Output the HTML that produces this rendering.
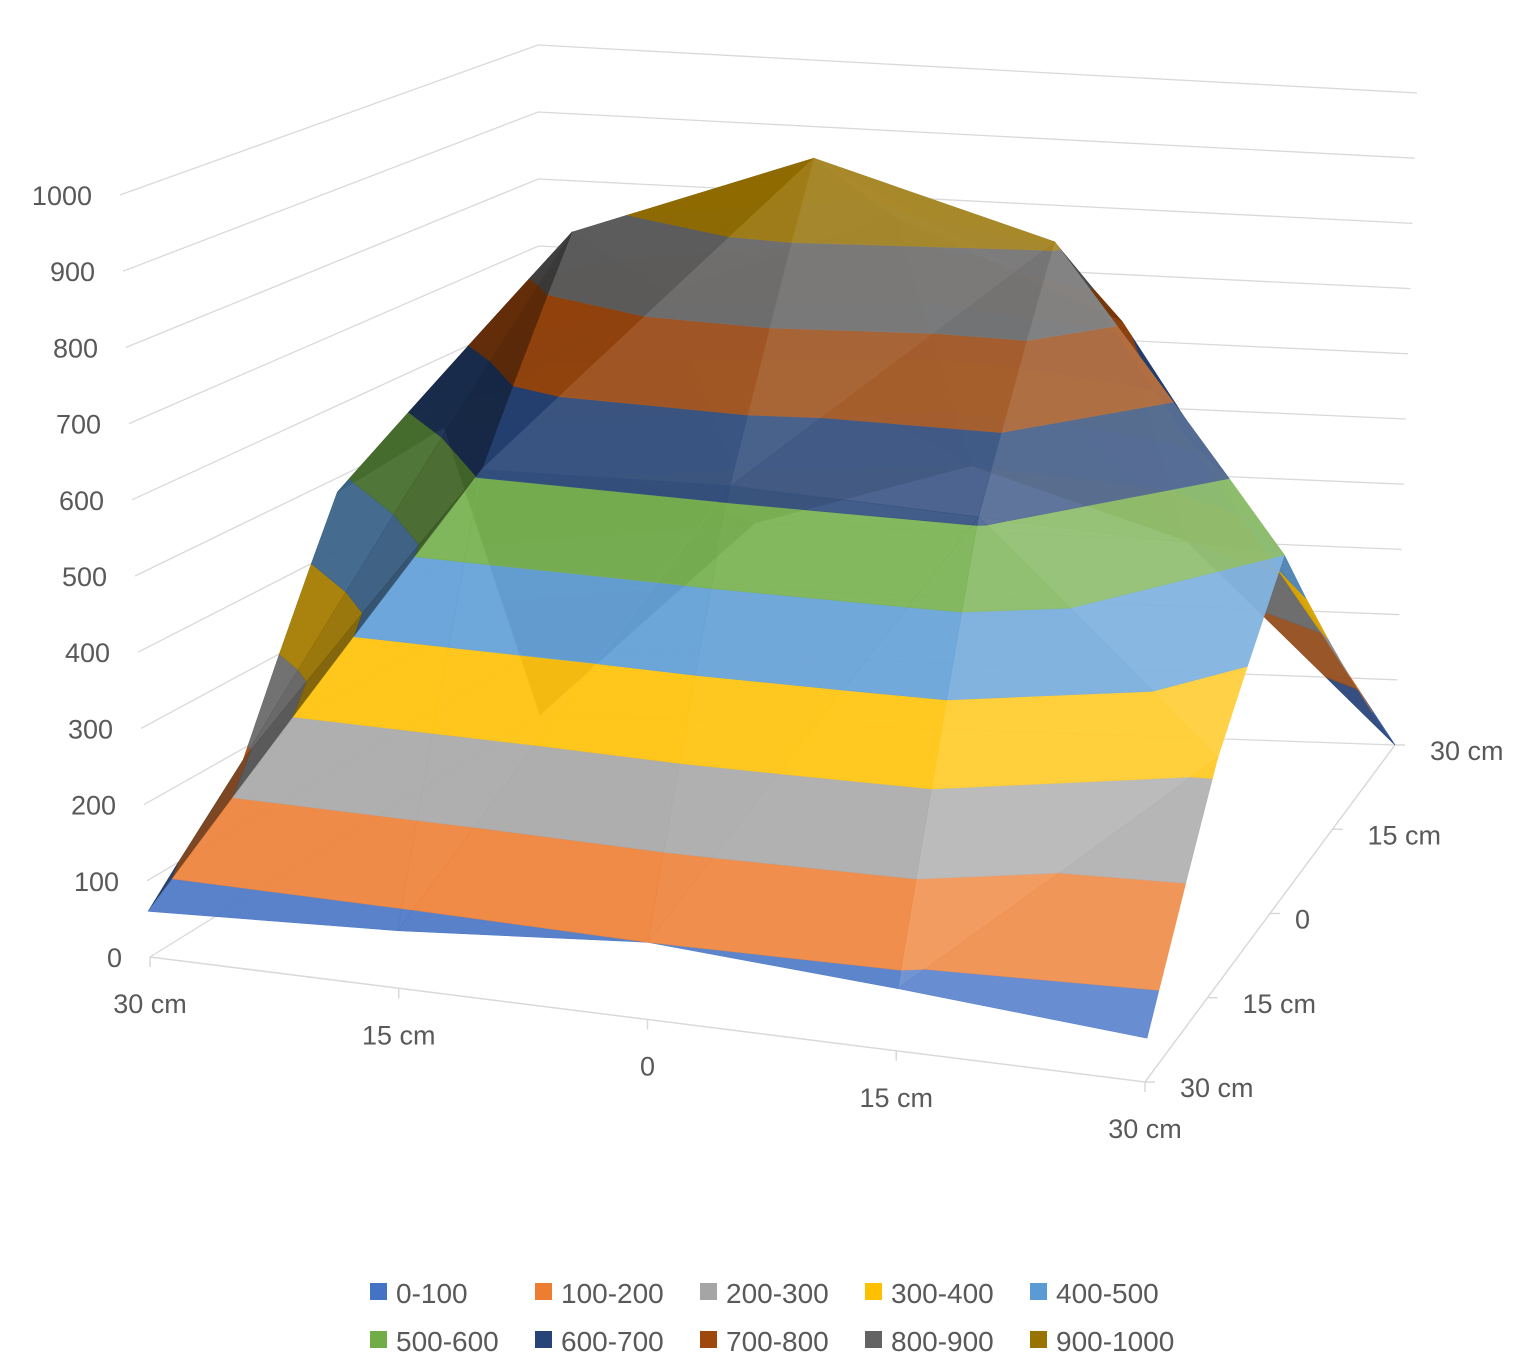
<!DOCTYPE html>
<html><head><meta charset="utf-8"><style>
body{margin:0;background:#fff;}
svg text{font-family:"Liberation Sans",sans-serif;fill:#595959;}
</style></head><body>
<svg id="chart" width="1536" height="1367" viewBox="0 0 1536 1367" xmlns="http://www.w3.org/2000/svg">
<g id="grid"></g>
<g id="axes"></g>
<g id="surf"></g>
<g id="legend"></g>
</svg>
<script>
const xCategories=["30 cm","15 cm","0","15 cm","30 cm"];
const depthCategories=["30 cm","15 cm","0","15 cm","30 cm"];
const zTicks=[0,100,200,300,400,500,600,700,800,900,1000];
const bandLabels=["0-100","100-200","200-300","300-400","400-500","500-600","600-700","700-800","800-900","900-1000"];
const bandColors=["#4472C4","#ED7D31","#A5A5A5","#FFC000","#5B9BD5","#70AD47","#264478","#9E480E","#636363","#997300"];
// rows: depth index 0 (front) .. 4 (back); columns: x index
const row0=[60,75,100,80,56];
const row1=[185,610,620,610,320];
const row2=[480,870,1000,910,500];
const row3=[530,720,850,720,250];
const row4=[0,300,400,300,0];
const values=[row0,row1,row2,row3,row4];

const NS="http://www.w3.org/2000/svg";
const FL=[150,957],FR=[1145,1082],BR=[1395,745],BL=[540,715];
const TFL=[120,195],TFR=[1180,300],TBR=[1417,93],TBL=[538,45];
const ZMAX=1000;
function lerp(a,b,t){return [a[0]+(b[0]-a[0])*t,a[1]+(b[1]-a[1])*t];}
function quad(a,b,c,d,u,v){return lerp(lerp(a,b,u),lerp(d,c,u),v);}
function proj(u,v,h){const b=quad(FL,FR,BR,BL,u,v),t=quad(TFL,TFR,TBR,TBL,u,v);return lerp(b,t,h/ZMAX);}
function el(tag,attrs,parent,name){const e=document.createElementNS(NS,tag);for(const k in attrs)e.setAttribute(k,attrs[k]);parent.appendChild(e);return e;}
const grid=document.getElementById('grid'),axes=document.getElementById('axes'),surf=document.getElementById('surf'),legend=document.getElementById('legend');
// gridlines
zTicks.forEach(z=>{
  const a=proj(0,0,z),b=proj(0,1,z),c=proj(1,1,z);
  const p=el('polyline',{points:`${a} ${b} ${c}`,fill:'none',stroke:'#d9d9d9','stroke-width':1.3},grid);
  
  
  const t=el('text',{x:a[0]-28,y:a[1]+10,'font-size':27,'text-anchor':'end'},axes);
  t.textContent=z;
  
  
});
// floor axes
{const a=proj(0,0,0),b=proj(1,0,0),c=proj(1,1,0);
const l=el('polyline',{points:`${a} ${b} ${c}`,fill:'none',stroke:'#d9d9d9','stroke-width':1.5},axes);

}
xCategories.forEach((c,i)=>{
  const p=proj(i/4,0,0);
  el('line',{x1:p[0],y1:p[1],x2:p[0],y2:p[1]+10,stroke:'#d9d9d9','stroke-width':1.5},axes);
  const t=el('text',{x:p[0],y:p[1]+56,'font-size':27,'text-anchor':'middle'},axes);
  t.textContent=c;
  
  
});
depthCategories.forEach((c,j)=>{
  const p=proj(1,j/4,0);
  el('line',{x1:p[0],y1:p[1],x2:p[0]+10,y2:p[1],stroke:'#d9d9d9','stroke-width':1.5},axes);
  const t=el('text',{x:p[0]+35+(j==2?-10:0),y:p[1]+15,'font-size':27,'text-anchor':'start'},axes);
  t.textContent=c;
  
  
});
// surface
function clip(poly,lvl,keepAbove){
  const out=[];
  for(let k=0;k<poly.length;k++){
    const A=poly[k],B=poly[(k+1)%poly.length];
    const ia=keepAbove?A[2]>=lvl:A[2]<=lvl, ib=keepAbove?B[2]>=lvl:B[2]<=lvl;
    if(ia)out.push(A);
    if(ia!==ib){const t=(lvl-A[2])/(B[2]-A[2]);out.push([A[0]+(B[0]-A[0])*t,A[1]+(B[1]-A[1])*t,lvl]);}
  }
  return out;
}
function shade(hex,f){const n=parseInt(hex.slice(1),16);let r=n>>16,g=(n>>8)&255,b=n&255;
  const m=c=>Math.max(0,Math.min(255,Math.round(f<=1?c*f:c+(255-c)*(f-1))));return `rgb(${m(r)},${m(g)},${m(b)})`;}
const tris=[];
for(let j=0;j<4;j++)for(let i=0;i<4;i++){
  const p=(a,b)=>[a,b,values[b][a]];
  const A=p(i,j),B=p(i+1,j),C=p(i+1,j+1),D=p(i,j+1);
  tris.push([A,B,C],[A,C,D]);
}
tris.sort((s,t)=>{const d=T=>T.reduce((q,v)=>q+v[1],0)/3;return d(t)-d(s);});
const L=[0.55,-0.55,0.63];const ln=Math.hypot(...L);
tris.forEach(T=>{
  const s=250;
  const u=[T[1][0]-T[0][0],T[1][1]-T[0][1],(T[1][2]-T[0][2])/s];
  const w=[T[2][0]-T[0][0],T[2][1]-T[0][1],(T[2][2]-T[0][2])/s];
  let n=[u[1]*w[2]-u[2]*w[1],u[2]*w[0]-u[0]*w[2],u[0]*w[1]-u[1]*w[0]];
  if(n[2]<0)n=n.map(x=>-x);
  const nl=Math.hypot(...n)||1;
  const dot=(n[0]*L[0]+n[1]*L[1]+n[2]*L[2])/(nl*ln);
  const f=0.5+0.75*dot;
  bandColors.forEach((col,b)=>{
    let poly=clip(T,b*100,true);if(poly.length<3)return;
    poly=clip(poly,b*100+100,false);if(poly.length<3)return;
    const pts=poly.map(P=>proj(P[0]/4,P[1]/4,P[2]).map(v=>v.toFixed(1)).join(',')).join(' ');
    const g=el('polygon',{points:pts,fill:shade(col,f),stroke:shade(col,f),'stroke-width':0.6,'fill-opacity':0.95},surf);
    
    
  });
});
// legend
bandLabels.forEach((lab,k)=>{
  const x=370+(k%5)*165,y=(k<5?1292:1340);
  const r=el('rect',{x:x,y:y-9,width:17,height:17,fill:bandColors[k]},legend);
  
  
  const t=el('text',{x:x+26,y:y+11,'font-size':28},legend);
  t.textContent=lab;
  
  
});
</script>
</body></html>
